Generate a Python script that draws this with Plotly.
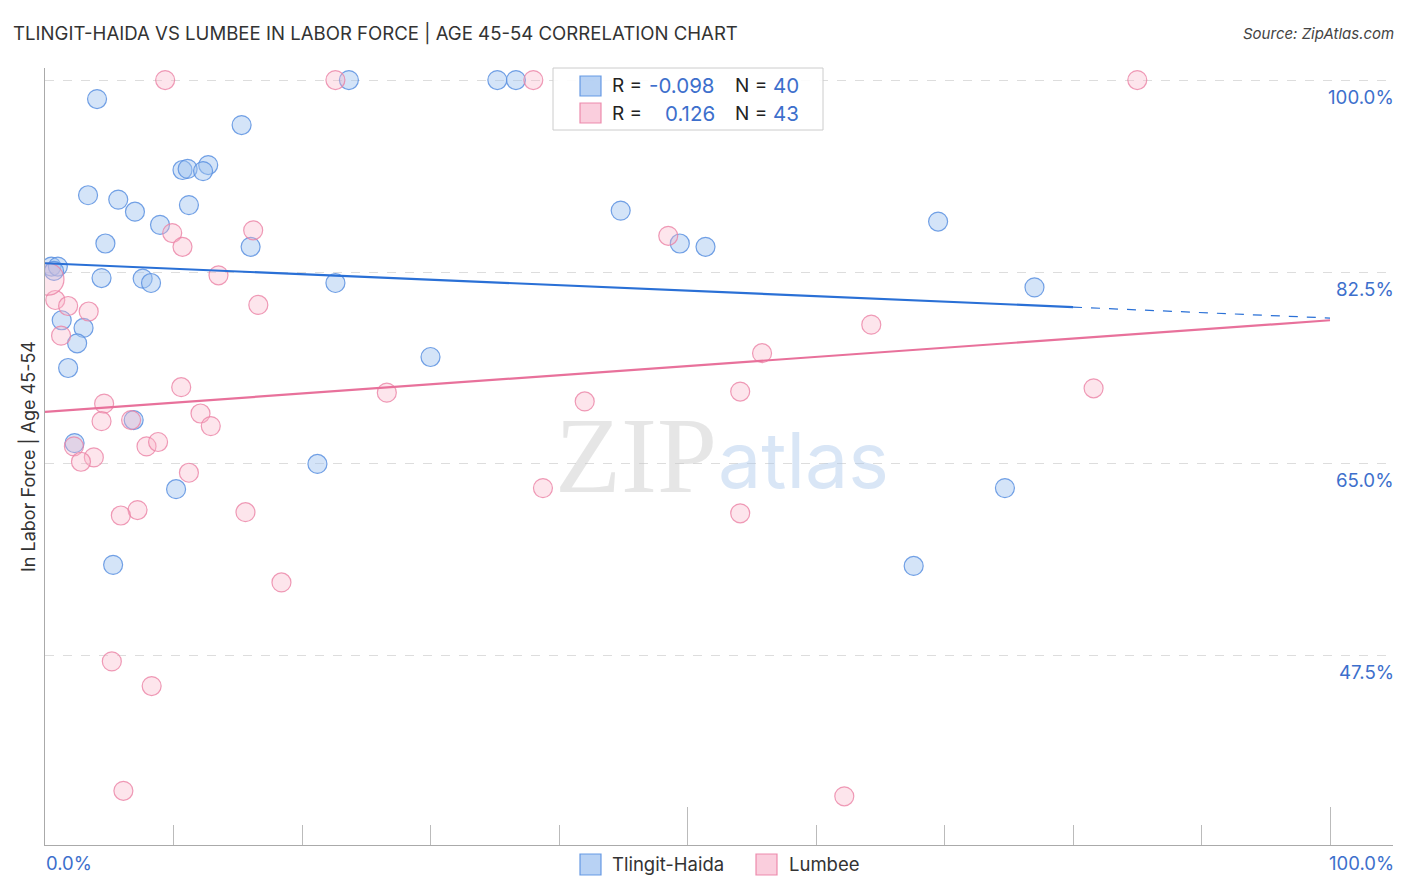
import plotly.graph_objects as go

# ---------------- data ----------------
tlingit_x = [4.05, 15.3, 10.7, 11.1, 12.7, 12.3, 3.35, 5.7, 7.0, 11.2,
             8.95, 4.7, 16.0, 23.65, 35.2, 36.65, 44.8, 49.4, 51.4, 69.5,
             77.0, 0.5, 1.0, 0.7, 4.4, 7.6, 8.25, 22.6, 1.3, 3.0,
             2.5, 1.8, 30.0, 6.9, 2.3, 21.2, 10.2, 74.7, 5.3, 67.6]
tlingit_y = [98.27, 95.9, 91.8, 91.9, 92.25, 91.7, 89.5, 89.1, 88.0, 88.6,
             86.8, 85.1, 84.8, 100.0, 100.0, 100.0, 88.1, 85.1, 84.8, 87.1,
             81.1, 83.0, 83.0, 82.6, 81.95, 81.9, 81.5, 81.5, 78.1, 77.4,
             76.0, 73.75, 74.75, 69.0, 66.9, 65.0, 62.7, 62.8, 55.8, 55.7]

lumbee_x = [9.35, 22.6, 38.0, 85.0, 16.2, 9.9, 10.7, 48.5, 13.5, 16.6,
            0.8, 1.8, 3.4, 1.25, 64.3, 55.8, 10.6, 26.6, 54.1, 81.6,
            42.0, 4.6, 12.1, 4.4, 6.7, 12.9, 2.25, 7.9, 8.8, 3.8,
            2.8, 11.2, 38.75, 7.2, 5.9, 15.6, 54.1, 18.4, 5.2, 8.3,
            6.1, 62.2]
lumbee_y = [100.0, 100.0, 100.0, 100.0, 86.3, 86.05, 84.8, 85.8, 82.2, 79.5,
            79.95, 79.4, 78.9, 76.7, 77.7, 75.1, 72.0, 71.5, 71.6, 71.9,
            70.7, 70.5, 69.6, 68.9, 69.0, 68.45, 66.6, 66.6, 67.0, 65.6,
            65.2, 64.2, 62.8, 60.8, 60.3, 60.6, 60.5, 54.2, 47.0, 44.75,
            35.2, 34.7]
lumbee_big_x = [0.23]
lumbee_big_y = [81.85]

tlingit_trend_x = [0, 80]
tlingit_trend_y = [83.3, 79.3]
tlingit_trend_ext_x = [80, 100]
tlingit_trend_ext_y = [79.3, 78.3]
lumbee_trend_x = [0, 100]
lumbee_trend_y = [69.75, 78.1]

y_ticks = [47.5, 65.0, 82.5, 100.0]
y_tick_labels = ["47.5%", "65.0%", "82.5%", "100.0%"]
x_tick_labels = ["0.0%", "100.0%"]

series_names = ["Tlingit-Haida", "Lumbee"]
r_values = ["-0.098", "0.126"]
n_values = ["40", "43"]

# ---------------- style ----------------
W, H = 1406, 892
L, R, T, B = 45, 13, 68, 47
BLUE_FILL = "rgba(160,195,240,0.45)"
BLUE_EDGE = "rgba(90,145,225,0.85)"
PINK_FILL = "rgba(248,180,200,0.35)"
PINK_EDGE = "rgba(235,130,165,0.8)"
BLUE_SQ = ("rgba(160,195,240,0.75)", "rgba(90,145,225,0.9)")
PINK_SQ = ("rgba(248,190,210,0.75)", "rgba(235,130,165,0.9)")
BLUE_LINE = "#2a70d6"
PINK_LINE = "#e8719b"
LABEL_BLUE = "#3d6fcc"
FONT = "Inter"

XR = [0, 104.9]
YR = [30.26, 101.1]


def px2paper_x(px):
    return (px - L) / (W - L - R)


def px2paper_y(py):
    return (H - B - py) / (H - T - B)


fig = go.Figure()

fig.add_trace(go.Scatter(x=tlingit_x, y=tlingit_y, mode="markers", showlegend=False,
                         marker=dict(size=19, color=BLUE_FILL, line=dict(color=BLUE_EDGE, width=1.2))))
fig.add_trace(go.Scatter(x=lumbee_x, y=lumbee_y, mode="markers", showlegend=False,
                         marker=dict(size=19, color=PINK_FILL, line=dict(color=PINK_EDGE, width=1.2))))
fig.add_trace(go.Scatter(x=lumbee_big_x, y=lumbee_big_y, mode="markers", showlegend=False,
                         marker=dict(size=32, color=PINK_FILL, line=dict(color=PINK_EDGE, width=1.2))))

fig.add_trace(go.Scatter(x=tlingit_trend_x, y=tlingit_trend_y, mode="lines", showlegend=False,
                         line=dict(color=BLUE_LINE, width=2.2)))
fig.add_trace(go.Scatter(x=tlingit_trend_ext_x, y=tlingit_trend_ext_y, mode="lines", showlegend=False,
                         line=dict(color=BLUE_LINE, width=1.2, dash="dash")))
fig.add_trace(go.Scatter(x=lumbee_trend_x, y=lumbee_trend_y, mode="lines", showlegend=False,
                         line=dict(color=PINK_LINE, width=2.2)))

annotations = []
shapes = []


def ann(text, px, py, xanchor="left", size=17, color="#333333", family=FONT, **kw):
    d = dict(text=text, xref="x domain", yref="y domain", x=px2paper_x(px), y=px2paper_y(py),
             xanchor=xanchor, yanchor="middle", showarrow=False, borderpad=0,
             font=dict(family=family, size=size, color=color))
    d.update(kw)
    annotations.append(d)


def square(x0, x1, y0, y1, cols):
    shapes.append(dict(type="rect", xref="x domain", yref="y domain",
                       x0=px2paper_x(x0), x1=px2paper_x(x1), y0=px2paper_y(y1), y1=px2paper_y(y0),
                       line=dict(color=cols[1], width=1.2), fillcolor=cols[0], layer="above"))


# title & source
ann("TLINGIT-HAIDA VS LUMBEE IN LABOR FORCE | AGE 45-54 CORRELATION CHART", 12, 33,
    size=18.6, color="#333333")
ann("<i>Source: ZipAtlas.com</i>", 1395, 34, xanchor="right", size=15, color="#444444")

# y axis title
ann("In Labor Force | Age 45-54", 28, 457, xanchor="center", size=18, color="#333333", textangle=-90)

# y tick labels (right side, just below grid lines)
for v, lab in zip(y_ticks, y_tick_labels):
    annotations.append(dict(text=lab, xref="x domain", yref="y", x=1.0, y=v, yshift=-17, xshift=2,
                            xanchor="right", yanchor="middle", showarrow=False, borderpad=0,
                            font=dict(family=FONT, size=18.7, color=LABEL_BLUE)))

# x tick labels
ann(x_tick_labels[0], 45, 863, xanchor="left", size=18.5, color=LABEL_BLUE)
ann(x_tick_labels[1], 1395, 863, xanchor="right", size=18.5, color=LABEL_BLUE)

# bottom legend (squares + names)
square(580, 601, 854, 875, BLUE_SQ)
ann(series_names[0], 611, 864, size=18.5, color="#333333")
square(756, 777, 854, 875, PINK_SQ)
ann(series_names[1], 788, 864, size=18.5, color="#333333")

# top stats legend box
shapes.append(dict(type="rect", xref="x domain", yref="y domain",
                   x0=px2paper_x(553), x1=px2paper_x(823), y0=px2paper_y(130), y1=px2paper_y(68),
                   line=dict(color="#cccccc", width=1), fillcolor="rgba(255,255,255,0.9)", layer="above"))
for i, (yc, cols) in enumerate(zip([86, 113], [BLUE_SQ, PINK_SQ])):
    square(580, 601, yc - 10, yc + 10, cols)
    ann("R =", 611, yc, size=19, color="#222222")
    ann(r_values[i], 716, yc, xanchor="right", size=20.5, color=LABEL_BLUE)
    ann("N =", 734, yc, size=19, color="#222222")
    ann(n_values[i], 772, yc, size=20.5, color=LABEL_BLUE)

# watermark
ann("ZIP", 636, 455, xanchor="center", size=108, color="rgba(200,200,200,0.45)", family="Liberation Serif")
ann("atlas", 803, 460, xanchor="center", size=77, color="rgba(170,200,235,0.45)")

fig.update_layout(
    width=W, height=H,
    margin=dict(l=L, r=R, t=T, b=B),
    plot_bgcolor="white", paper_bgcolor="white",
    font=dict(family=FONT),
    showlegend=False,
    annotations=annotations,
    shapes=shapes,
    xaxis=dict(range=XR, showgrid=False, zeroline=False, showline=True, linecolor="#aaaaaa", linewidth=1.2,
               ticks="inside", tick0=0, dtick=50, ticklen=38, tickcolor="#bbbbbb", tickwidth=1,
               showticklabels=False,
               minor=dict(ticks="inside", dtick=10, tick0=0, ticklen=20, tickcolor="#bbbbbb", showgrid=False)),
    yaxis=dict(range=YR, showgrid=True, gridcolor="#dddddd", griddash="dash", gridwidth=1,
               tickvals=y_ticks, showticklabels=False, zeroline=False,
               showline=True, linecolor="#aaaaaa", linewidth=1.2, ticks=""),
)

fig.write_html("out.html", config={"displayModeBar": False},
               post_script="document.body.style.margin='0';document.body.style.padding='0';")
